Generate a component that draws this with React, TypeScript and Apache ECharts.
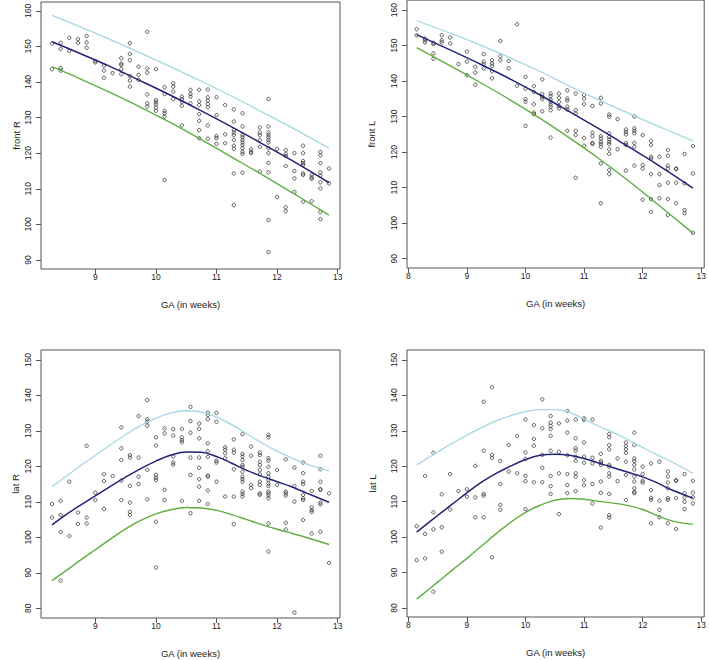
import React, { useEffect, useRef } from "react";
import * as echarts from "echarts";

// ---- Data (GA in weeks, measurement values) ----
type Col = [number, number[]];

const frontR: Col[] = [
  [8.286, [150.8, 143.6]],
  [8.429, [151.0, 149.3, 143.9, 143.2]],
  [8.571, [152.4, 148.7]],
  [8.714, [152.0, 151.0]],
  [8.857, [152.9, 151.1, 149.6]],
  [9.0, [145.9, 145.5]],
  [9.143, [144.6, 143.2, 141.2]],
  [9.286, [142.5]],
  [9.429, [146.7, 145.2, 144.8, 143.6, 142.2]],
  [9.571, [150.9, 147.9, 146.1, 141.7, 140.4, 138.7]],
  [9.714, [144.3, 142.0, 140.6]],
  [9.857, [154.1, 143.8, 142.6, 136.5, 134.0, 133.1]],
  [10.0, [143.6, 134.9, 134.3, 133.7, 132.8, 131.9]],
  [10.143, [138.5, 136.6, 131.9, 131.2, 130.3, 112.5]],
  [10.286, [139.6, 138.7, 137.3, 135.2]],
  [10.429, [135.9, 135.2, 134.4, 133.3, 127.8]],
  [10.571, [137.8, 136.6, 135.9, 134.0]],
  [10.714, [137.8, 134.5, 133.5, 131.0, 129.1, 126.5, 124.2]],
  [10.857, [137.9, 135.7, 134.8, 133.8, 132.9, 127.8, 124.1]],
  [11.0, [135.7, 130.7, 124.8, 124.2, 122.6]],
  [11.143, [133.5, 125.3, 122.8]],
  [11.286, [132.3, 128.9, 126.5, 125.8, 125.1, 123.7, 122.1, 121.2, 114.3, 105.4]],
  [11.429, [131.2, 127.5, 125.1, 124.5, 123.7, 123.0, 122.3, 121.4, 120.4, 119.8, 114.5]],
  [11.571, [121.1, 120.4, 120.0]],
  [11.714, [127.2, 125.8, 125.1, 123.7, 121.8, 114.8]],
  [11.857, [135.2, 127.5, 125.8, 125.1, 124.5, 123.7, 123.0, 121.4, 120.0, 117.3, 114.6, 101.2, 92.2]],
  [12.0, [121.2, 107.7]],
  [12.143, [120.9, 119.8, 119.2, 116.4, 104.8, 103.7]],
  [12.286, [120.0, 115.0, 112.9, 109.1]],
  [12.429, [122.1, 120.0, 117.8, 117.2, 116.7, 114.3, 113.9, 106.4]],
  [12.571, [113.9, 113.2, 112.8, 106.5]],
  [12.714, [120.3, 119.4, 117.2, 114.6, 113.7, 111.8, 110.1, 103.5, 101.5]],
  [12.857, [115.7, 111.5]],
];

const frontL: Col[] = [
  [8.143, [154.6, 152.9]],
  [8.286, [152.0, 151.5, 150.9]],
  [8.429, [150.8, 150.4, 147.8, 146.3]],
  [8.571, [152.9, 151.5, 150.9]],
  [8.714, [152.3, 150.6]],
  [8.857, [144.8]],
  [9.0, [148.3, 145.5, 141.7]],
  [9.143, [144.0, 142.4, 139.0]],
  [9.286, [147.6, 145.5, 144.8, 143.6]],
  [9.429, [145.9, 145.0, 144.3, 142.8, 140.8]],
  [9.571, [151.3, 147.0, 145.9]],
  [9.714, [145.7, 143.6]],
  [9.857, [156.0, 138.7]],
  [10.0, [141.2, 137.9, 134.9, 134.2, 127.4]],
  [10.143, [138.6, 137.0, 133.5, 131.1, 130.7]],
  [10.286, [140.5, 136.4, 135.6, 134.9, 131.5]],
  [10.429, [136.5, 135.8, 134.8, 134.2, 133.4, 132.8, 131.8, 124.1]],
  [10.571, [136.5, 135.3, 134.2, 133.0, 132.3]],
  [10.714, [137.4, 135.1, 134.5, 132.8, 132.0, 126.0]],
  [10.857, [136.5, 131.8, 130.9, 126.0, 124.8, 112.8]],
  [11.0, [136.1, 135.1, 133.5, 124.0, 121.8]],
  [11.143, [133.0, 125.5, 124.5, 122.6, 122.3]],
  [11.286, [135.3, 133.7, 124.5, 123.8, 122.9, 122.3, 121.5, 116.8, 105.6]],
  [11.429, [130.6, 130.0, 125.3, 124.3, 123.6, 122.9, 122.3, 120.8, 119.5, 115.0, 113.8]],
  [11.571, [129.3, 120.8]],
  [11.714, [126.4, 125.7, 125.0, 122.6, 122.0, 114.8]],
  [11.857, [130.0, 126.7, 126.0, 125.3, 122.6, 121.5, 116.2]],
  [12.0, [124.8, 116.4, 115.4, 106.6]],
  [12.143, [123.2, 122.0, 118.7, 118.2, 113.8, 106.8, 103.2]],
  [12.286, [118.7, 113.8, 110.7, 107.0]],
  [12.429, [120.6, 119.0, 116.2, 115.4, 111.4, 106.8, 102.3]],
  [12.571, [115.4, 115.2, 111.4, 105.6]],
  [12.714, [119.5, 111.2, 103.7, 102.8]],
  [12.857, [121.7, 114.0, 97.3]],
];

const latR: Col[] = [
  [8.286, [109.4, 105.6]],
  [8.429, [110.3, 106.3, 101.5, 87.8]],
  [8.571, [115.7, 100.4]],
  [8.714, [107.0, 103.8]],
  [8.857, [125.8, 105.6, 103.9]],
  [9.0, [112.6, 110.5]],
  [9.143, [117.8, 115.9, 108.0]],
  [9.286, [117.3]],
  [9.429, [131.0, 125.1, 121.8, 116.0, 110.5]],
  [9.571, [123.2, 122.5, 114.5, 109.8, 107.2, 106.3]],
  [9.714, [134.2, 122.5, 117.1, 115.0]],
  [9.857, [138.7, 133.3, 132.6, 131.5, 119.0, 110.7]],
  [10.0, [128.2, 125.9, 117.6, 116.8, 116.2, 104.4, 91.5]],
  [10.143, [130.7, 129.3, 113.4, 110.5]],
  [10.286, [130.5, 128.7, 122.8, 121.1, 120.5]],
  [10.429, [130.6, 128.2, 127.4, 126.8, 110.3]],
  [10.571, [136.8, 132.8, 129.5, 122.5, 117.6, 106.8]],
  [10.714, [132.1, 130.6, 127.9, 122.5, 119.6, 116.4, 114.3, 110.3]],
  [10.857, [135.2, 134.5, 133.3, 126.5, 124.3, 122.7, 117.4, 117.1, 113.2, 109.4]],
  [11.0, [135.1, 132.6, 121.6, 121.1, 115.7]],
  [11.143, [125.4, 124.7, 123.7, 122.3, 111.5]],
  [11.286, [127.6, 124.7, 123.9, 119.2, 111.5, 103.7]],
  [11.429, [129.1, 123.5, 122.8, 121.8, 120.4, 119.9, 118.5, 117.1, 116.4, 115.7, 112.9, 112.2, 111.5]],
  [11.571, [125.6, 123.0, 114.8, 113.9]],
  [11.714, [123.9, 123.2, 121.3, 120.4, 119.0, 117.8, 115.7, 114.8, 112.4, 112.0]],
  [11.857, [128.9, 128.2, 122.3, 121.6, 119.9, 118.1, 117.1, 116.2, 115.2, 114.5, 112.9, 112.4, 111.8, 111.0, 103.9, 96.0]],
  [12.0, [119.0, 114.8]],
  [12.143, [122.0, 112.9, 112.4, 111.8, 104.1, 102.2]],
  [12.286, [119.7, 114.5, 110.1, 78.8]],
  [12.429, [121.1, 118.1, 115.7, 115.0, 112.0, 111.0, 110.5, 104.9]],
  [12.571, [113.1, 108.5, 107.7, 107.2, 101.1]],
  [12.714, [123.0, 119.2, 115.7, 113.6, 113.4, 109.8, 109.3, 101.6]],
  [12.857, [112.4, 92.8]],
];

const latL: Col[] = [
  [8.143, [103.1, 93.5]],
  [8.286, [117.3, 100.9, 94.0]],
  [8.429, [123.8, 107.0, 102.2, 84.6]],
  [8.571, [112.1, 102.8, 95.9]],
  [8.714, [117.8, 107.8]],
  [8.857, [113.0]],
  [9.0, [113.5, 111.4]],
  [9.143, [120.1, 111.2, 105.6]],
  [9.286, [138.2, 124.4, 112.2, 111.7, 105.6]],
  [9.429, [142.3, 123.2, 122.4, 94.3]],
  [9.571, [121.5, 115.0, 109.1, 107.7]],
  [9.714, [126.0, 118.5]],
  [9.857, [128.5, 118.0]],
  [10.0, [133.2, 123.9, 122.1, 117.3, 115.8, 107.9]],
  [10.143, [131.6, 127.7, 125.8, 115.5]],
  [10.286, [138.9, 130.7, 123.2, 119.6, 115.5]],
  [10.429, [134.2, 132.3, 131.4, 130.5, 128.6, 124.4, 117.3, 114.4, 112.2]],
  [10.571, [132.1, 124.1, 118.0, 106.5]],
  [10.714, [135.6, 132.9, 129.5, 123.1, 117.8, 114.7, 112.4]],
  [10.857, [133.2, 127.9, 125.1, 124.4, 122.7, 121.5, 118.0, 117.1, 113.0]],
  [11.0, [133.5, 133.1, 126.7, 122.7, 121.0, 116.1, 114.7]],
  [11.143, [133.2, 122.4, 120.8, 115.0, 109.5]],
  [11.286, [123.5, 121.5, 121.0, 120.4, 115.7, 112.5, 102.7]],
  [11.429, [129.1, 128.2, 126.0, 124.8, 120.4, 119.9, 118.0, 117.1, 112.2, 106.2, 105.5]],
  [11.571, [122.2, 115.8]],
  [11.714, [126.7, 125.7, 124.8, 123.8, 121.3, 117.5, 110.5]],
  [11.857, [129.5, 126.0, 122.2, 121.5, 120.4, 119.1, 117.1, 115.7, 113.8, 112.8, 112.4]],
  [12.0, [119.9, 117.8, 115.9, 115.4]],
  [12.143, [120.8, 113.3, 111.1, 110.5, 103.9]],
  [12.286, [121.3, 110.3, 107.7, 105.6]],
  [12.429, [118.5, 117.1, 115.4, 113.8, 111.0, 110.5, 103.9]],
  [12.571, [116.1, 115.9, 111.0, 102.3]],
  [12.714, [117.8, 112.4, 111.2, 110.0, 107.9]],
  [12.857, [115.9, 112.6, 111.2, 109.5]],
];

// centile curve GA positions
const frontGA_R = [8.286, 8.75, 9.25, 9.75, 10.25, 10.75, 11.25, 11.75, 12.25, 12.857];
const frontGA_L = [8.143, 8.75, 9.25, 9.75, 10.25, 10.75, 11.25, 11.75, 12.25, 12.857];
const latGA_R = [8.286, 8.5, 8.75, 9.0, 9.25, 9.5, 9.75, 10.0, 10.25, 10.5, 10.75, 11.0, 11.25, 11.5, 11.75, 12.0, 12.25, 12.5, 12.857];
const latGA_L = [8.143, 8.5, 8.75, 9.0, 9.25, 9.5, 9.75, 10.0, 10.25, 10.5, 10.75, 11.0, 11.25, 11.5, 11.75, 12.0, 12.25, 12.5, 12.857];

const frontR_upper = [158.7, 155.5, 151.9, 148.1, 144.2, 140.2, 136.0, 131.6, 127.1, 121.4];
const frontR_mid = [151.3, 148.0, 144.3, 140.3, 136.2, 131.9, 127.4, 122.7, 117.9, 111.7];
const frontR_lower = [144.3, 140.9, 137.0, 132.9, 128.5, 123.8, 118.9, 114.0, 108.9, 102.6];

const frontL_upper = [157.0, 153.3, 150.0, 146.5, 142.7, 138.6, 134.7, 131.0, 127.4, 123.2];
const frontL_mid = [153.1, 148.5, 144.6, 140.5, 136.1, 131.4, 126.6, 121.6, 116.5, 109.9];
const frontL_lower = [149.4, 144.0, 139.4, 134.6, 129.5, 124.0, 118.2, 112.0, 105.4, 97.2];

const latR_upper = [114.3, 117.0, 120.1, 123.1, 126.1, 129.0, 131.5, 133.6, 135.1, 135.7, 135.3, 133.9, 131.8, 129.2, 126.6, 124.3, 122.3, 120.6, 118.8];
const latR_mid = [103.5, 106.2, 109.0, 111.7, 114.4, 117.0, 119.4, 121.5, 123.2, 124.1, 124.0, 122.8, 120.9, 118.9, 117.2, 115.7, 114.2, 112.4, 109.9];
const latR_lower = [87.8, 90.4, 93.5, 96.5, 99.5, 102.4, 104.8, 106.6, 107.8, 108.4, 108.3, 107.6, 106.4, 105.0, 103.6, 102.3, 101.1, 99.9, 98.0];

const latL_upper = [120.4, 124.0, 126.5, 128.8, 130.9, 132.8, 134.3, 135.4, 136.0, 136.0, 135.2, 133.3, 131.3, 129.5, 127.5, 125.3, 123.2, 121.2, 118.0];
const latL_mid = [101.4, 106.1, 109.3, 112.5, 115.5, 118.0, 120.1, 121.9, 123.1, 123.4, 123.1, 122.2, 120.9, 119.6, 118.3, 117.0, 115.3, 113.3, 111.0];
const latL_lower = [82.5, 87.3, 90.7, 94.0, 97.5, 101.0, 104.2, 107.0, 109.0, 110.4, 110.9, 110.7, 110.1, 109.6, 108.9, 107.8, 106.1, 104.6, 103.6];

const xTicksR = [9, 10, 11, 12, 13];
const xTicksL = [8, 9, 10, 11, 12, 13];
const yTicksFront = [90, 100, 110, 120, 130, 140, 150, 160];
const yTicksLat = [80, 90, 100, 110, 120, 130, 140, 150];

const COLOR_UPPER = "#A6D6E6";
const COLOR_MID = "#22227A";
const COLOR_LOWER = "#5EAF40";
const FONT = "Liberation Sans, Arial, Helvetica, sans-serif";

function flatten(cols: Col[]): [number, number][] {
  const out: [number, number][] = [];
  cols.forEach(([x, ys]) => ys.forEach((y) => out.push([x, y])));
  return out;
}
function zip(xs: number[], ys: number[]): [number, number][] {
  return xs.map((x, i) => [x, ys[i]]);
}

export default function App() {
  const ref = useRef<HTMLDivElement>(null);
  useEffect(() => {
    document.body.style.margin = "0";
    if (!ref.current) return;
    const chart = echarts.init(ref.current, undefined, { renderer: "svg" });

    const panels = [
      { grid: { left: 41, top: 2, width: 299, height: 267 }, xmin: 8.104, xmax: 13.038, ymin: 87.47, ymax: 162.47, xt: xTicksR, yt: yTicksFront, name: "front R", nameGap: 20, pts: frontR, ga: frontGA_R, u: frontR_upper, m: frontR_mid, l: frontR_lower },
      { grid: { left: 407, top: 0, width: 298, height: 268 }, xmin: 7.978, xmax: 13.05, ymin: 87.38, ymax: 162.81, xt: xTicksL, yt: yTicksFront, name: "front L", nameGap: 31, pts: frontL, ga: frontGA_L, u: frontL_upper, m: frontL_mid, l: frontL_lower },
      { grid: { left: 41, top: 350, width: 299, height: 268 }, xmin: 8.104, xmax: 13.038, ymin: 77.27, ymax: 152.82, xt: xTicksR, yt: yTicksLat, name: "lat R", nameGap: 21, pts: latR, ga: latGA_R, u: latR_upper, m: latR_mid, l: latR_lower },
      { grid: { left: 407, top: 350, width: 298, height: 267 }, xmin: 7.978, xmax: 13.05, ymin: 77.46, ymax: 152.82, xt: xTicksL, yt: yTicksLat, name: "lat L", nameGap: 30, pts: latL, ga: latGA_L, u: latL_upper, m: latL_mid, l: latL_lower },
    ];

    const grids: any[] = [];
    const xAxes: any[] = [];
    const yAxes: any[] = [];
    const series: any[] = [];
    panels.forEach((p, i) => {
      grids.push({ ...p.grid, show: true, borderColor: "#555", borderWidth: 1, backgroundColor: "transparent", containLabel: false });
      xAxes.push({
        gridIndex: i, type: "value", min: p.xmin, max: p.xmax,
        axisLine: { show: false },
        axisTick: { show: true, length: 5, customValues: p.xt, lineStyle: { color: "#555", width: 1 } },
        axisLabel: { customValues: p.xt, fontSize: 8.5, color: "#222", fontFamily: FONT, margin: 3, formatter: (v: number) => String(Math.round(v)) },
        splitLine: { show: false },
        name: "GA (in weeks)", nameLocation: "middle", nameGap: 30,
        nameTextStyle: { fontSize: 9.5, color: "#222", fontFamily: FONT },
      });
      yAxes.push({
        gridIndex: i, type: "value", min: p.ymin, max: p.ymax,
        axisLine: { show: false },
        axisTick: { show: true, length: 5, customValues: p.yt, lineStyle: { color: "#555", width: 1 } },
        axisLabel: { customValues: p.yt, rotate: 90, fontSize: 8.5, color: "#222", fontFamily: FONT, margin: 9, formatter: (v: number) => String(Math.round(v)) },
        splitLine: { show: false },
        name: p.name, nameLocation: "middle", nameRotate: 90, nameGap: p.nameGap,
        nameTextStyle: { fontSize: 9.5, color: "#222", fontFamily: FONT },
      });
      series.push({
        type: "scatter", xAxisIndex: i, yAxisIndex: i, data: flatten(p.pts),
        symbol: "circle", symbolSize: 3.4,
        itemStyle: { color: "rgba(0,0,0,0)", borderColor: "#222", borderWidth: 0.9 },
        emphasis: { disabled: true }, z: 2,
      });
      const mk = (ys: number[], color: string, w: number) => ({
        type: "line", xAxisIndex: i, yAxisIndex: i, data: zip(p.ga, ys),
        smooth: 0.4, showSymbol: false, symbol: "none",
        lineStyle: { color, width: w }, emphasis: { disabled: true }, z: 3,
      });
      series.push(mk(p.u, COLOR_UPPER, 1.3));
      series.push(mk(p.m, COLOR_MID, 1.5));
      series.push(mk(p.l, COLOR_LOWER, 1.4));
    });

    chart.setOption({
      animation: false,
      backgroundColor: "#ffffff",
      grid: grids,
      xAxis: xAxes,
      yAxis: yAxes,
      series,
      tooltip: { show: false },
    });
    return () => chart.dispose();
  }, []);
  return <div ref={ref} style={{ width: 709, height: 660 }} />;
}
